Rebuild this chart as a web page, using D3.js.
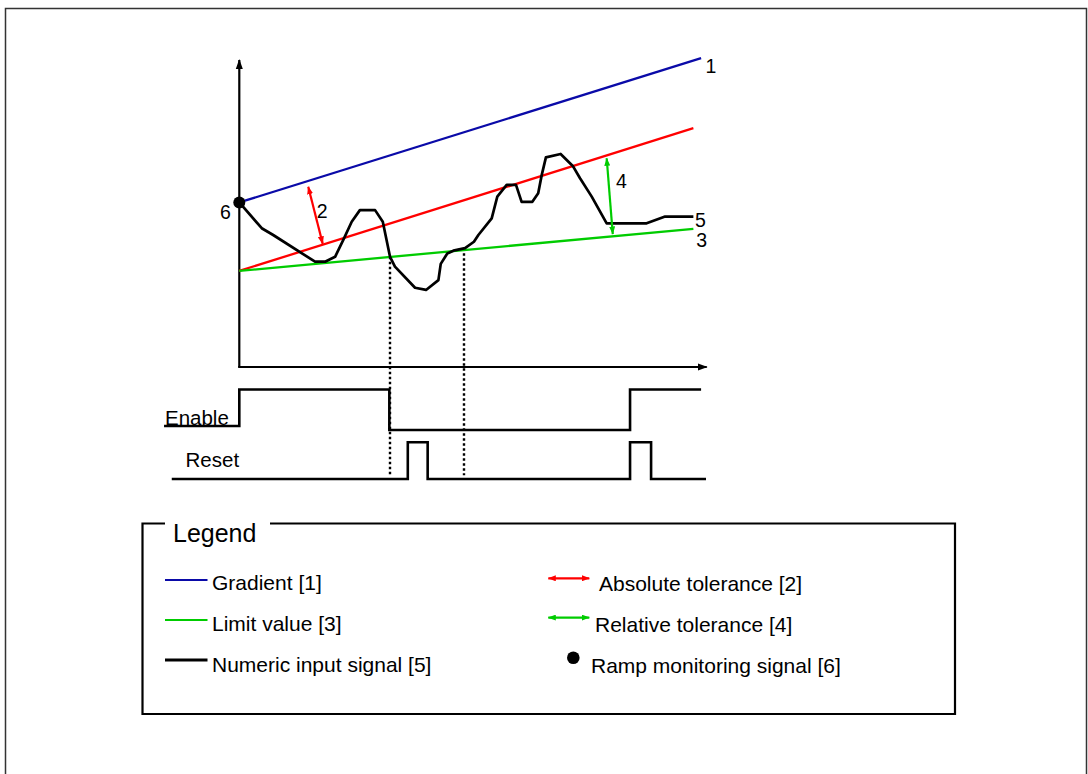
<!DOCTYPE html>
<html lang="en">
<head>
<meta charset="UTF-8">
<script src="https://d3js.org/d3.v7.min.js"></script>
<title>Ramp monitoring</title>
<style>
    body { margin: 0; background: #fff; }
    text { font-family: "Liberation Sans", Arial, sans-serif; fill: #000; }
</style>
</head>
<body>
<svg width="1088" height="774"></svg>
<script>
    const width = 1088, height = 774;
    const blue = '#0a0aa8', red = '#ff0000', green = '#00cc00';

    // ramp lines, [time, value]
    const gradient   = [[0, 5.36], [19.76, 10.06]];
    const absBand    = [[0, 3.13], [19.43, 7.78]];
    const limitValue = [[0, 3.13], [19.43, 4.50]];

    // numeric input signal
    const signalT = [0, 0.96, 1.45, 3.24, 3.67, 4.10, 4.45, 4.81, 5.16, 5.81, 6.14, 6.45, 6.66, 7.52, 7.99,
                     8.52, 8.62, 8.90, 9.16, 9.66, 10.04, 10.23, 10.80, 11.04, 11.44, 11.84, 12.08, 12.54,
                     12.79, 12.94, 13.12, 13.75, 14.27, 14.58, 15.08, 15.72, 17.43, 18.22, 19.43];
    const signalV = [5.36, 4.52, 4.30, 3.43, 3.43, 3.59, 4.14, 4.73, 5.11, 5.11, 4.73, 3.59, 3.27, 2.58, 2.51,
                     2.83, 3.36, 3.70, 3.79, 3.87, 4.08, 4.30, 4.84, 5.55, 5.93, 5.93, 5.38, 5.38,
                     5.66, 6.25, 6.83, 6.94, 6.55, 6.15, 5.55, 4.68, 4.68, 4.90, 4.90];

    // digital signals (step after)
    const enable = [[-3.22, 0.1], [0, 1], [6.42, 0], [16.72, 1], [19.76, 1]];
    const reset  = [[-2.89, 0], [7.21, 1], [8.06, 0], [16.72, 1], [17.62, 0], [19.97, 0]];

    // dotted markers: [time, value on signal]
    const markers = [[6.43, 3.59], [9.61, 3.87]];

    // tolerance arrows: [[t1,v1],[t2,v2]]
    const absArrow = [[2.95, 5.87], [3.57, 4.01]];
    const relArrow = [[15.72, 6.80], [15.98, 4.33]];

    const tags = [
        {text: '1', t: 19.95, v: 9.59},
        {text: '2', t: 3.31,  v: 4.84},
        {text: '4', t: 16.12, v: 5.84},
        {text: '5', t: 19.50, v: 4.57},
        {text: '3', t: 19.55, v: 3.90},
        {text: '6', t: -0.83, v: 4.82}
    ];

    const legendLeft  = ['Gradient [1]', 'Limit value [3]', 'Numeric input signal [5]'];
    const legendLeftC = [blue, green, '#000'];
    const legendRight = ['Absolute tolerance [2]', 'Relative tolerance [4]', 'Ramp monitoring signal [6]'];

    const x = d3.scaleLinear().domain([0, 20]).range([239.3, 706.7]);
    const y = d3.scaleLinear().domain([0, 10]).range([367, 60]);
    const yEn = d3.scaleLinear().domain([0, 1]).range([430, 389.5]);
    const yRs = d3.scaleLinear().domain([0, 1]).range([479, 442.3]);

    const svg = d3.select('svg');
    const defs = svg.append('defs');

    defs.append('marker').attr('id', 'axisHead')
        .attr('markerUnits', 'userSpaceOnUse')
        .attr('viewBox', '0 0 10 8').attr('refX', 9).attr('refY', 4)
        .attr('markerWidth', 10).attr('markerHeight', 8)
        .attr('orient', 'auto')
        .append('path').attr('d', 'M0,0.5 L10,4 L0,7.5 Z').attr('fill', '#000');

    [['redHead', red], ['greenHead', green]].forEach(([id, c]) => {
        defs.append('marker').attr('id', id)
            .attr('markerUnits', 'userSpaceOnUse')
            .attr('viewBox', '0 0 8 6').attr('refX', 7.5).attr('refY', 3)
            .attr('markerWidth', 8).attr('markerHeight', 6)
            .attr('orient', 'auto-start-reverse')
            .append('path').attr('d', 'M0,0 L8,3 L0,6 Z').attr('fill', c);
    });

    // outer frame (open at the bottom)
    svg.append('path')
        .attr('d', `M5.5,${height} V8.5 H1086.5 V${height}`)
        .attr('fill', 'none').attr('stroke', '#333').attr('stroke-width', 1.5);

    const line = d3.line().x(d => x(d[0])).y(d => y(d[1]));

    // axes
    svg.append('line')
        .attr('x1', x(-0.05)).attr('y1', y(0)).attr('x2', x(20)).attr('y2', y(0))
        .attr('stroke', '#000').attr('stroke-width', 2.2).attr('marker-end', 'url(#axisHead)');
    svg.append('line')
        .attr('x1', x(0)).attr('y1', y(0)).attr('x2', x(0)).attr('y2', y(10))
        .attr('stroke', '#000').attr('stroke-width', 2.2).attr('marker-end', 'url(#axisHead)');

    // dotted markers
    svg.selectAll('line.mark').data(markers).enter().append('line').attr('class', 'mark')
        .attr('x1', d => Math.round(x(d[0]))).attr('x2', d => Math.round(x(d[0])))
        .attr('y1', d => y(d[1])).attr('y2', yRs(0.1))
        .attr('stroke', '#000').attr('stroke-width', 2.4).attr('stroke-dasharray', '2.5,2.5');

    // ramp lines
    [[gradient, blue], [absBand, red], [limitValue, green]].forEach(([d, c]) => {
        svg.append('path').attr('d', line(d))
            .attr('fill', 'none').attr('stroke', c).attr('stroke-width', 2.3);
    });

    // signal
    const signal = signalT.map((t, i) => [t, signalV[i]]);
    svg.append('path').attr('d', line(signal))
        .attr('fill', 'none').attr('stroke', '#000').attr('stroke-width', 2.7)
        .attr('stroke-linejoin', 'round');

    svg.append('circle').attr('cx', x(signal[0][0])).attr('cy', y(signal[0][1]))
        .attr('r', 6).attr('fill', '#000');

    // tolerance arrows
    [[absArrow, red, 'redHead'], [relArrow, green, 'greenHead']].forEach(([d, c, m]) => {
        svg.append('path').attr('d', line(d))
            .attr('fill', 'none').attr('stroke', c).attr('stroke-width', 2.2)
            .attr('marker-start', `url(#${m})`).attr('marker-end', `url(#${m})`);
    });

    svg.selectAll('text.tag').data(tags).enter().append('text').attr('class', 'tag')
        .attr('x', d => x(d.t)).attr('y', d => y(d.v))
        .style('font-size', '19.5px').text(d => d.text);

    // digital signals
    const stepEn = d3.line().curve(d3.curveStepAfter).x(d => x(d[0])).y(d => yEn(d[1]));
    const stepRs = d3.line().curve(d3.curveStepAfter).x(d => x(d[0])).y(d => yRs(d[1]));
    svg.append('path').attr('d', stepEn(enable))
        .attr('fill', 'none').attr('stroke', '#000').attr('stroke-width', 2.6);
    svg.append('path').attr('d', stepRs(reset))
        .attr('fill', 'none').attr('stroke', '#000').attr('stroke-width', 2.6);

    svg.append('text').attr('x', x(-3.18)).attr('y', yEn(0.12))
        .style('font-size', '20.5px').text('Enable');
    svg.append('text').attr('x', x(-2.3)).attr('y', yRs(0.34))
        .style('font-size', '20.5px').text('Reset');

    // legend box
    const lg = {x0: 142.5, y0: 523.5, x1: 955, y1: 714};
    svg.append('path')
        .attr('d', `M165,${lg.y0} H${lg.x0} V${lg.y1} H${lg.x1} V${lg.y0} H270`)
        .attr('fill', 'none').attr('stroke', '#000').attr('stroke-width', 2.2);
    svg.append('text').attr('x', 173).attr('y', 541.5)
        .style('font-size', '25px').text('Legend');

    const gl = svg.append('g');
    legendLeft.forEach((label, i) => {
        const ly = 580 + 40 * i;
        gl.append('line').attr('x1', 165).attr('x2', 207.5).attr('y1', ly).attr('y2', ly)
            .attr('stroke', legendLeftC[i]).attr('stroke-width', i === 2 ? 2.8 : 2.2);
        gl.append('text').attr('x', 212).attr('y', 590 + 41 * i)
            .style('font-size', '21px').text(label);
    });

    legendRight.forEach((label, i) => {
        const ly = 578.3 + 39.3 * i;
        if (i < 2) {
            const c = i === 0 ? red : green, m = i === 0 ? 'redHead' : 'greenHead';
            gl.append('line').attr('x1', 548.3).attr('x2', 589.3).attr('y1', ly).attr('y2', ly)
                .attr('stroke', c).attr('stroke-width', 2.2)
                .attr('marker-start', `url(#${m})`).attr('marker-end', `url(#${m})`);
        } else {
            gl.append('circle').attr('cx', 573.3).attr('cy', 657.7).attr('r', 6.3).attr('fill', '#000');
        }
        gl.append('text').attr('x', 599 - 4 * i).attr('y', 591 + 41 * i)
            .style('font-size', '21px').text(label);
    });
</script>
</body>
</html>
